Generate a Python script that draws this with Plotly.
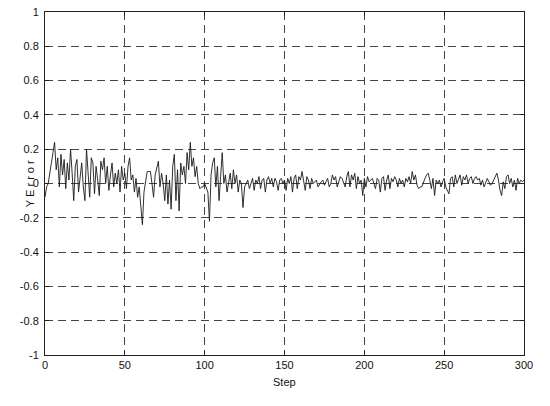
import plotly.graph_objects as go

y_error = [
    -0.08, -0.02, 0.0, 0.05, 0.12, 0.18, 0.24, 0.08, 0.15, -0.02,
    0.17, 0.05, 0.14, -0.03, 0.12, 0.02, 0.2, 0.06, -0.1, 0.1,
    0.14, -0.05, 0.03, 0.12, -0.02, -0.1, 0.2, 0.04, -0.08, 0.15,
    0.12, -0.06, 0.1, 0.02, -0.07, 0.13, 0.08, 0.15, 0.0, 0.1,
    -0.04, 0.05, 0.12, -0.02, 0.06, 0.0, 0.08, -0.05, 0.1, 0.02,
    0.06, -0.03, 0.1, 0.15, 0.02, 0.05, -0.05, 0.03, -0.08, -0.02,
    -0.12, -0.24, -0.05, 0.0, 0.07, 0.07, 0.07, 0.0, -0.08, 0.05,
    0.1, 0.13, -0.02, 0.06, 0.0, -0.1, 0.05, -0.12, 0.02, -0.15,
    0.1, 0.17, -0.1, 0.08, -0.16, 0.12, 0.05, 0.1, 0.0, 0.18,
    0.08, 0.24, 0.1, 0.15, 0.04, 0.1, 0.0, -0.03, -0.02, -0.02,
    0.0, -0.02, -0.05, -0.22, 0.05, 0.12, 0.15, -0.02, 0.1, -0.1,
    0.05, 0.18, 0.0, 0.05, -0.05, 0.02, 0.06, -0.03, 0.08, 0.0,
    0.05, -0.05, 0.02, 0.0, -0.14, -0.02, 0.0, 0.02, -0.03, 0.0,
    0.03, -0.04, 0.02, 0.0, 0.04, -0.03, 0.02, 0.03, -0.05, 0.02,
    0.04, 0.0, 0.03, -0.02, 0.03, 0.01, -0.04, 0.02, 0.03, 0.0,
    0.02, -0.04, 0.03, 0.0, 0.04, -0.05, 0.03, 0.05, -0.03, 0.04,
    0.02, 0.07, 0.0, -0.04, 0.04, 0.02, -0.03, 0.03, 0.0, 0.01,
    0.02, -0.02, 0.0, 0.01, 0.02, -0.01, 0.01, 0.03, -0.02, 0.0,
    0.05, 0.02, 0.04, -0.02, 0.01, 0.04, 0.03, 0.0, -0.02, 0.04,
    0.07, -0.02, 0.05, 0.02, 0.06, -0.03, 0.04, 0.0, 0.02, -0.07,
    0.03, -0.02, 0.04, 0.01, 0.02, 0.03, 0.0, -0.03, 0.03, 0.02,
    -0.05, 0.03, 0.04, -0.04, 0.02, 0.05, -0.03, 0.03, 0.01, 0.04,
    0.02, -0.02, 0.03, 0.0, 0.02, -0.02, 0.03, 0.01, 0.04, 0.0,
    0.07, 0.02, 0.05, -0.01, -0.03, -0.02, -0.02, 0.01, 0.03, 0.05,
    0.06, 0.02, -0.03, 0.03, -0.07, 0.02, 0.0, 0.02, -0.02, 0.01,
    0.03, -0.02, -0.04, -0.06, 0.03, 0.04, -0.02, 0.05, 0.0, 0.03,
    0.05, -0.01, 0.04, 0.02, 0.05, 0.0, 0.03, 0.04, 0.0, 0.03,
    0.04, 0.02, 0.03, -0.01, 0.02, -0.02, 0.0, 0.03, 0.01, -0.01,
    0.0, 0.02, 0.03, 0.06, 0.02, -0.04, -0.07, 0.01, -0.03, 0.04,
    0.05, 0.0, 0.03, -0.02, 0.02, -0.04, 0.03, 0.0, 0.02, 0.01,
    0.02,
]
steps = list(range(len(y_error)))

x_ticks = [0, 50, 100, 150, 200, 250, 300]
y_ticks = [-1, -0.8, -0.6, -0.4, -0.2, 0, 0.2, 0.4, 0.6, 0.8, 1]
y_tick_labels = ["-1", "-0.8", "-0.6", "-0.4", "-0.2", "0", "0.2", "0.4", "0.6", "0.8", "1"]

fig = go.Figure()
fig.add_trace(go.Scatter(x=steps, y=y_error, mode="lines",
                         line=dict(color="#1a1a1a", width=0.9), showlegend=False))

font = dict(family="Liberation Sans, Arial, sans-serif", size=11, color="#111111")
axis_common = dict(showline=True, linecolor="#222222", linewidth=1, mirror="ticks",
                   ticks="inside", ticklen=4, tickcolor="#222222",
                   showgrid=True, gridcolor="#444444", griddash="8px,5px", gridwidth=1,
                   zeroline=False, tickfont=font, automargin=False)

fig.update_layout(
    width=550, height=406,
    margin=dict(l=45, r=26, t=12, b=51),
    paper_bgcolor="white", plot_bgcolor="white",
    xaxis=dict(range=[0, 300], tickvals=x_ticks, **axis_common),
    yaxis=dict(range=[-1, 1], tickvals=y_ticks, ticktext=y_tick_labels,
               ticklabelstandoff=3, **axis_common),
    annotations=[
        dict(text="Step", xref="paper", yref="paper", x=0.5, y=-0.078,
             xanchor="center", yanchor="middle", showarrow=False, font=font),
        dict(text="Y E r r o r", xref="paper", yref="paper", x=-0.032, y=0.5,
             xanchor="center", yanchor="middle", textangle=-90, showarrow=False, font=font),
    ],
)
fig.write_html("out.html", config={"displayModeBar": False},
               post_script="document.body.style.margin='0';document.body.style.padding='0';")
